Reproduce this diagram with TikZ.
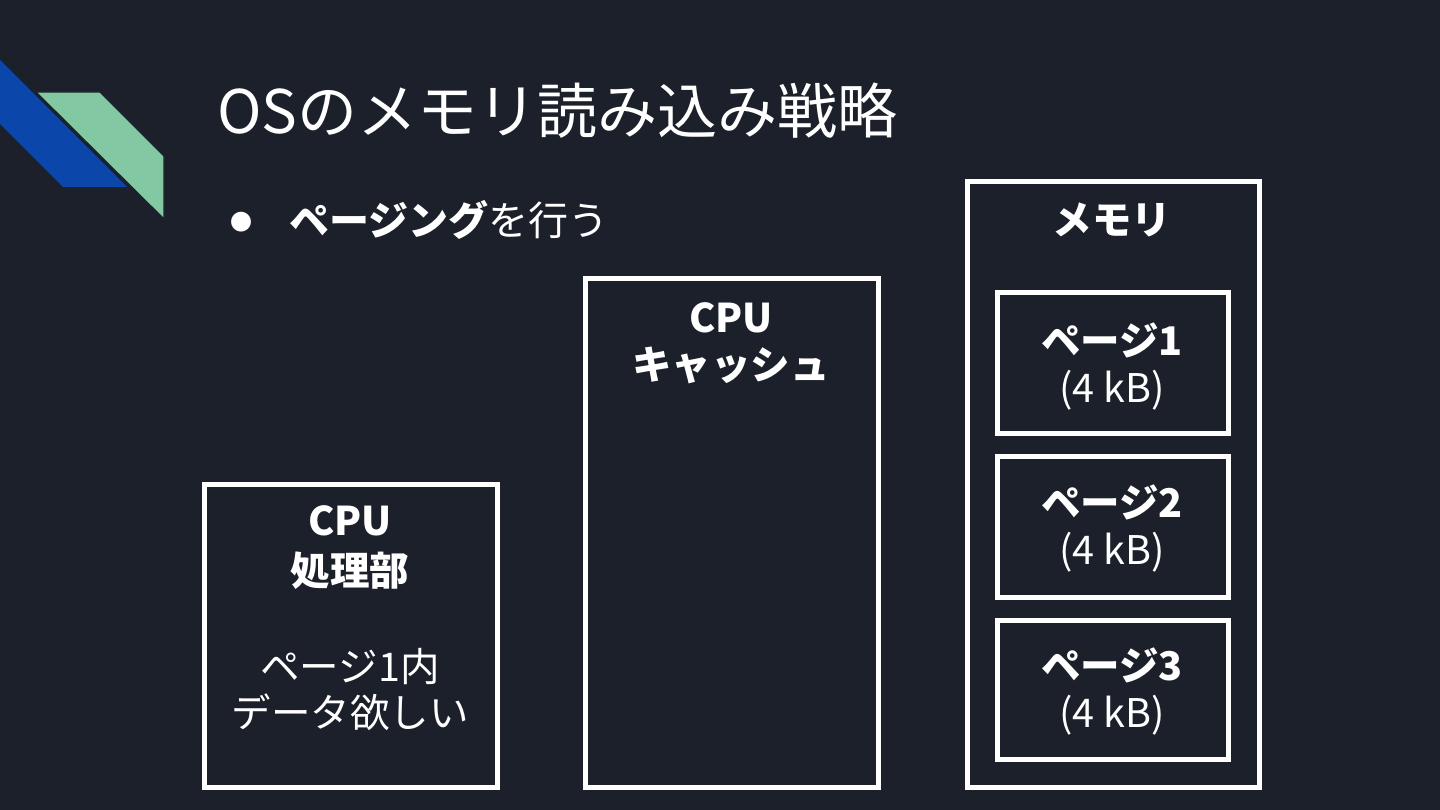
\documentclass[tikz,border=0pt]{standalone}
\usepackage{fontspec}
\setmainfont{Noto Sans CJK JP}
\definecolor{bg}{HTML}{1C202B}
\definecolor{dblue}{HTML}{0B47AA}
\definecolor{mgreen}{HTML}{82C8A2}
\begin{document}
\begin{tikzpicture}[x=1pt,y=-1pt,
  box/.style={draw=white,line width=5pt,anchor=north west,inner sep=0pt,outer sep=0pt},
  txt/.style={text=white,anchor=base,inner sep=0pt,font=\fontsize{39.5}{44}\selectfont},
  btxt/.style={txt,font=\fontsize{39.5}{44}\selectfont\bfseries}]
\fill[bg] (0,0) rectangle (1440,810);
\useasboundingbox (0,0) rectangle (1440,810);
% decoration
\fill[dblue] (0,60) -- (127,187) -- (63,187) -- (0,124) -- cycle;
\filldraw[mgreen,draw=bg,line width=1.2pt] (36,92) -- (100,92) -- (164,156) -- (164,219) -- cycle;
% title and bullet
\node[text=white,anchor=base west,inner sep=0pt,font=\fontsize{60}{66}\selectfont] (title) at (217,134) {OSのメモリ読み込み戦略};
\node[text=white,anchor=base,inner sep=0pt,font=\fontsize{22}{26}\selectfont] (bul) at (241,231) {●};
\node[text=white,anchor=base west,inner sep=0pt,font=\fontsize{40}{44}\selectfont] (bt) at (289,236) {\textbf{ページング}を行う};
% boxes
\node[box,minimum width=293pt,minimum height=303pt] (cpu) at (204,484) {};
\node[box,minimum width=293pt,minimum height=508pt] (cache) at (585,279) {};
\node[box,minimum width=292pt,minimum height=605pt] (mem) at (967,182) {};
\node[box,minimum width=231pt,minimum height=140pt] (p1) at (997,293) {};
\node[box,minimum width=231pt,minimum height=141pt] (p2) at (997,456) {};
\node[box,minimum width=231pt,minimum height=139pt] (p3) at (997,620) {};
% texts
\node[btxt] (cpu1) at (350,535) {CPU};
\node[btxt] (cpu2) at (350,585) {処理部};
\node[txt] (cpu3) at (350,681) {ページ1内};
\node[txt] (cpu4) at (350,727) {データ欲しい};
\node[btxt] (ca1) at (731,332) {CPU};
\node[btxt] (ca2) at (731,379) {キャッシュ};
\node[btxt] (m1) at (1112,235) {メモリ};
\node[btxt] (p1a) at (1112,355) {ページ1};
\node[txt] (p1b) at (1112,402) {(4 kB)};
\node[btxt] (p2a) at (1112,517) {ページ2};
\node[txt] (p2b) at (1112,564) {(4 kB)};
\node[btxt] (p3a) at (1112,680) {ページ3};
\node[txt] (p3b) at (1112,727) {(4 kB)};
\end{tikzpicture}
\end{document}
